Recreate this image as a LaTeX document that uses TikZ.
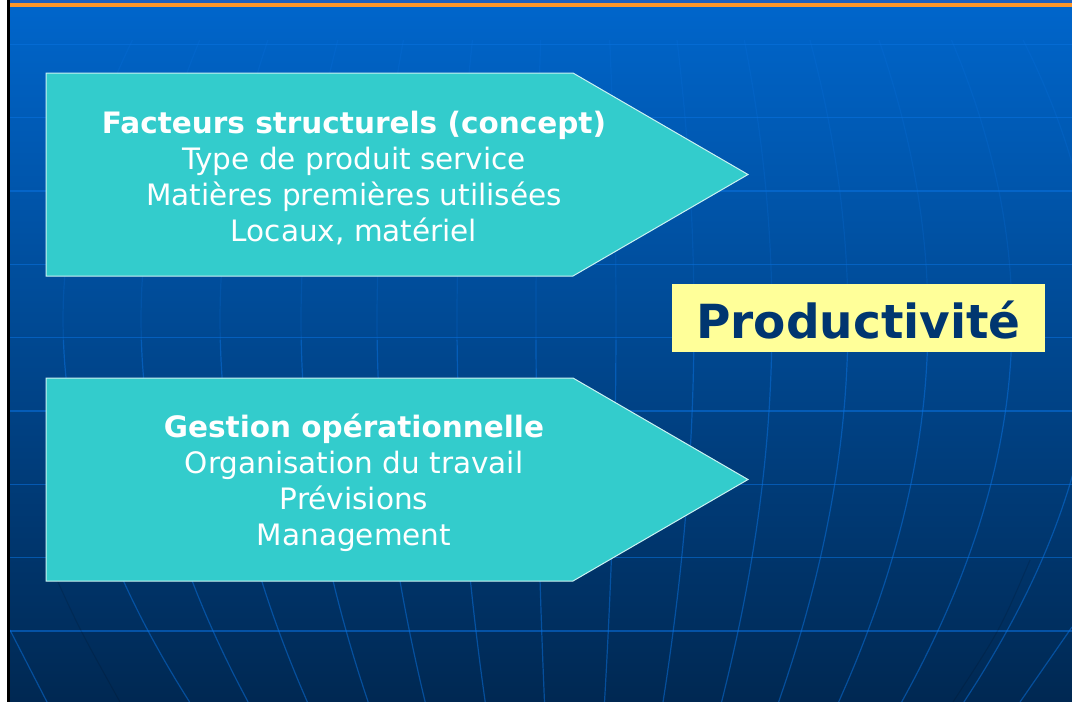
\documentclass[tikz,border=0pt]{standalone}
\usepackage{fontspec}
\setmainfont{DejaVu Sans}
\begin{document}
\begin{tikzpicture}[x=1pt,y=-1pt]
\definecolor{bgtop}{RGB}{0,102,204}
\definecolor{bgmid}{RGB}{0,76,156}
\definecolor{bgbot}{RGB}{0,40,82}
\definecolor{topstrip}{RGB}{30,96,190}
\definecolor{orangeline}{RGB}{255,150,40}
\definecolor{gridblue}{RGB}{10,115,225}
\definecolor{cyanbox}{RGB}{51,204,204}
\definecolor{yellowbox}{RGB}{255,255,153}
\definecolor{navytext}{RGB}{0,54,112}
\tikzset{
  hline/.style={draw=gridblue, line width=1.3pt, opacity=0.55},
  mline/.style={draw=gridblue, line width=1.2pt, opacity=0.5},
  mlinefaint/.style={draw=gridblue, line width=1.2pt, opacity=0.22},
  darkline/.style={draw=black, line width=1.1pt, opacity=0.12},
  arrowbox/.style={fill=cyanbox, draw=white!75!cyanbox, line width=1pt},
  titleline/.style={anchor=base, text=white, inner sep=0pt, font=\fontsize{29.5}{36}\selectfont\bfseries},
  itemline/.style={anchor=base, text=white, inner sep=0pt, font=\fontsize{29.5}{36}\selectfont},
  prodbox/.style={anchor=base, fill=yellowbox, text=navytext, inner sep=0pt,
    minimum width=373pt, text height=54pt, text depth=14pt,
    font=\fontsize{47}{56}\selectfont\bfseries}
}
\useasboundingbox (0,0) rectangle (1072,702);
% frame and background
\fill[white] (0,0) rectangle (7,702);
\fill[black] (7,0) rectangle (10,702);
\shade[top color=bgtop, middle color=bgmid, bottom color=bgbot] (10,0) rectangle (1072,702);
\fill[topstrip] (10,0) rectangle (1072,3);
\fill[orangeline] (10,3) rectangle (1072,7.3);
% globe grid
\begin{scope}
\clip (10,8) rectangle (1072,702);
\foreach \yy in {44.3,117.7,191,264.3,337.7,411,484.3,557.7,631}
  \draw[hline] (10,\yy) -- (1072,\yy);
\foreach \xe in {63,141,220,301,377,457,536,616,694,772,848,928,1012,1095}{
  \draw[mlinefaint] plot[variable=\t, domain=40:340, samples=15, smooth]
    ({570+(\xe-570)*cos((\t-320)/529*57.2958)}, \t);
  \draw[mline] plot[variable=\t, domain=340:702, samples=18, smooth]
    ({570+(\xe-570)*cos((\t-320)/529*57.2958)}, \t);
}
\draw[darkline] (57,580) .. controls (80,630) .. (120,702);
\draw[darkline] (1030,560) .. controls (1000,630) .. (953,702);
\draw[mline] (10,630) -- (47,702);
\draw[mline] (1072,627) -- (1020,702);
\end{scope}
% arrow boxes
\coordinate (a1) at (46,73);
\coordinate (a2) at (573,73);
\coordinate (a3) at (748,174.5);
\coordinate (a4) at (573,276);
\coordinate (a5) at (46,276);
\path[arrowbox] (a1) -- (a2) -- (a3) -- (a4) -- (a5) -- cycle;
\coordinate (b1) at (46,378);
\coordinate (b2) at (573,378);
\coordinate (b3) at (748,479.5);
\coordinate (b4) at (573,581);
\coordinate (b5) at (46,581);
\path[arrowbox] (b1) -- (b2) -- (b3) -- (b4) -- (b5) -- cycle;
% texts
\node[titleline] (t1) at (354,133) {Facteurs structurels (concept)};
\node[itemline] (t2) at (354,169) {Type de produit service};
\node[itemline] (t3) at (354,205) {Matières premières utilisées};
\node[itemline] (t4) at (354,241) {Locaux, matériel};
\node[titleline] (g1) at (354,437) {Gestion opérationnelle};
\node[itemline] (g2) at (354,473) {Organisation du travail};
\node[itemline] (g3) at (354,509) {Prévisions};
\node[itemline] (g4) at (354,545) {Management};
% result
\node[prodbox] (prod) at (858.5,338) {Productivité};
\end{tikzpicture}
\end{document}
